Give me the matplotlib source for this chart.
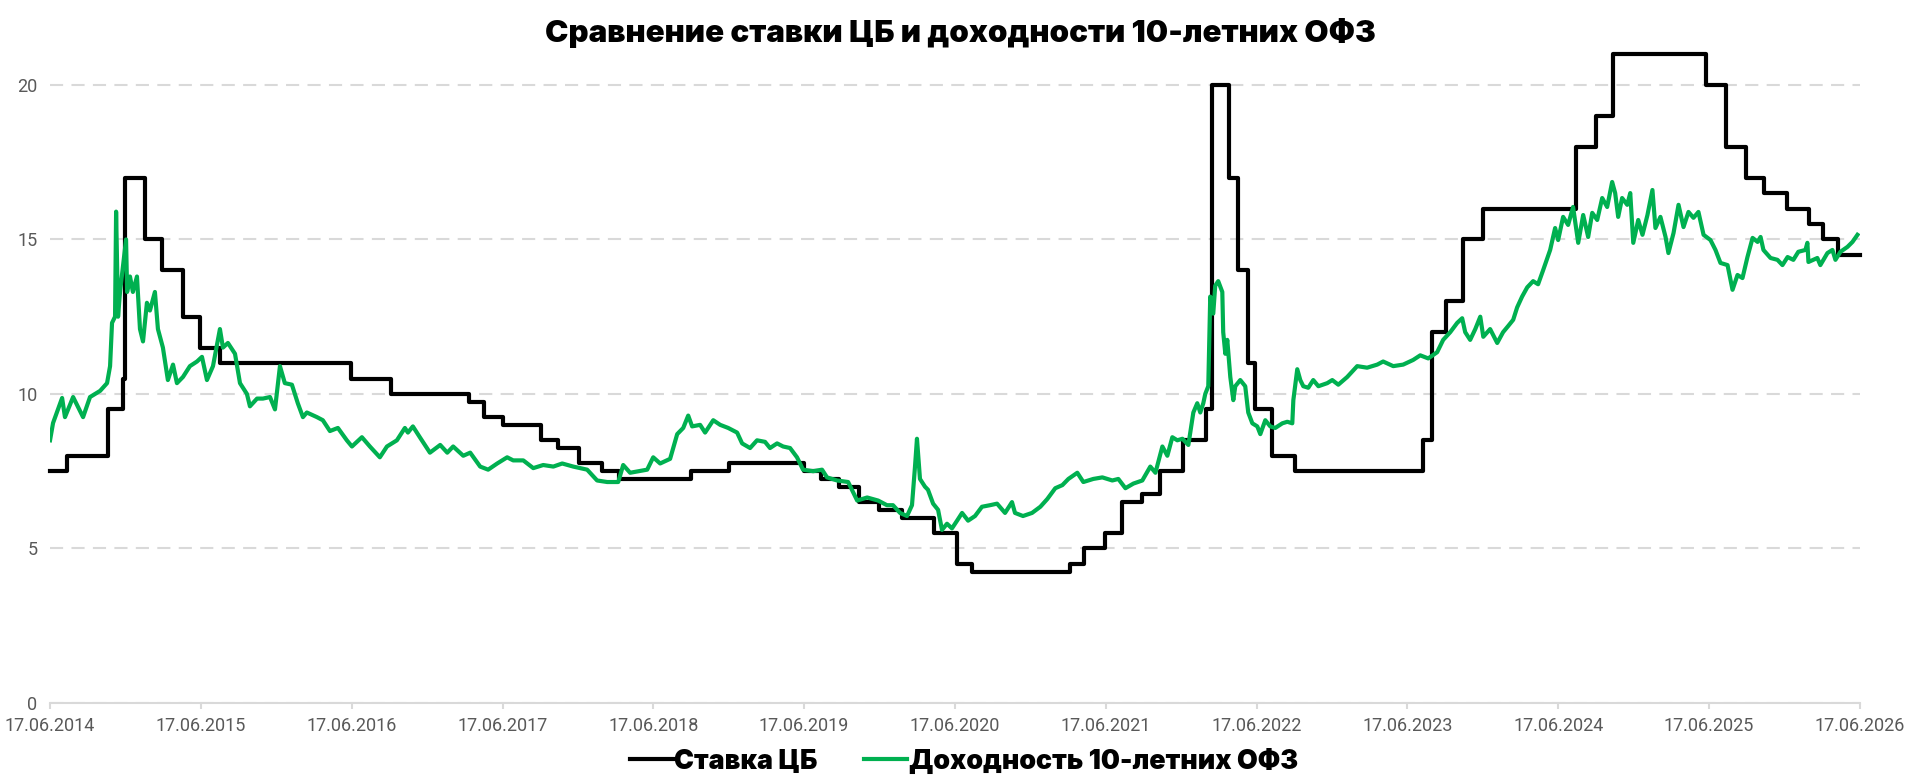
import matplotlib
matplotlib.use("Agg")
import matplotlib.pyplot as plt
import matplotlib.dates as mdates
from datetime import datetime, timedelta

# Ключевая ставка ЦБ (дата изменения -> значение)
rate_dates = ['2014-06-17', '2014-07-28', '2014-11-05', '2014-12-12', '2014-12-16',
              '2015-02-02', '2015-03-16', '2015-05-05', '2015-06-16', '2015-08-03',
              '2016-06-14', '2016-09-19', '2017-03-27', '2017-05-02', '2017-06-19',
              '2017-09-18', '2017-10-30', '2017-12-18', '2018-02-12', '2018-03-26',
              '2018-09-17', '2018-12-17', '2019-06-17', '2019-07-29', '2019-09-09',
              '2019-10-28', '2019-12-16', '2020-02-10', '2020-04-27', '2020-06-22',
              '2020-07-27', '2021-03-22', '2021-04-26', '2021-06-15', '2021-07-26',
              '2021-09-13', '2021-10-25', '2021-12-20', '2022-02-14', '2022-02-28',
              '2022-04-11', '2022-05-04', '2022-05-27', '2022-06-14', '2022-07-25',
              '2022-09-19', '2023-07-24', '2023-08-15', '2023-09-18', '2023-10-30',
              '2023-12-18', '2024-07-29', '2024-09-16', '2024-10-28', '2025-06-09',
              '2025-07-28', '2025-09-15', '2025-10-27', '2025-12-22', '2026-02-13',
              '2026-03-20', '2026-04-24', '2026-06-17']
rate_values = [7.5, 8, 9.5, 10.5, 17, 15, 14, 12.5, 11.5, 11,
               10.5, 10, 9.75, 9.25, 9, 8.5, 8.25, 7.75, 7.5, 7.25,
               7.5, 7.75, 7.5, 7.25, 7, 6.5, 6.25, 6, 5.5, 4.5,
               4.25, 4.5, 5, 5.5, 6.5, 6.75, 7.5, 8.5, 9.5, 20,
               17, 14, 11, 9.5, 8, 7.5, 8.5, 12, 13, 15,
               16, 18, 19, 21, 20, 18, 17, 16.5, 16, 15.5,
               15, 14.5, 14.5]

# Доходность 10-летних ОФЗ (дробный год -> %)
ofz_years = [2014.458, 2014.478, 2014.538, 2014.557, 2014.611, 2014.677, 2014.723, 2014.790,
             2014.836, 2014.856, 2014.869, 2014.889, 2014.896, 2014.909, 2014.922, 2014.962,
             2014.969, 2014.988, 2015.008, 2015.035, 2015.055, 2015.075, 2015.101, 2015.121,
             2015.154, 2015.174, 2015.207, 2015.240, 2015.274, 2015.300, 2015.340, 2015.386,
             2015.433, 2015.466, 2015.499, 2015.539, 2015.585, 2015.605, 2015.638, 2015.685,
             2015.718, 2015.764, 2015.784, 2015.831, 2015.870, 2015.917, 2015.950, 2015.983,
             2016.016, 2016.063, 2016.102, 2016.136, 2016.162, 2016.229, 2016.268, 2016.315,
             2016.368, 2016.427, 2016.461, 2016.527, 2016.580, 2016.646, 2016.693, 2016.759,
             2016.812, 2016.832, 2016.865, 2016.911, 2016.978, 2017.044, 2017.091, 2017.130,
             2017.197, 2017.243, 2017.309, 2017.362, 2017.422, 2017.488, 2017.528, 2017.595,
             2017.661, 2017.727, 2017.794, 2017.853, 2017.926, 2018.019, 2018.085, 2018.152,
             2018.225, 2018.258, 2018.304, 2018.417, 2018.457, 2018.503, 2018.569, 2018.616,
             2018.656, 2018.689, 2018.715, 2018.768, 2018.801, 2018.855, 2018.901, 2018.954,
             2019.014, 2019.047, 2019.100, 2019.146, 2019.199, 2019.232, 2019.279, 2019.319,
             2019.365, 2019.411, 2019.451, 2019.518, 2019.577, 2019.610, 2019.677, 2019.750,
             2019.810, 2019.876, 2019.949, 2020.008, 2020.048, 2020.095, 2020.141, 2020.174,
             2020.194, 2020.207, 2020.227, 2020.260, 2020.280, 2020.314, 2020.347, 2020.373,
             2020.406, 2020.439, 2020.473, 2020.506, 2020.546, 2020.592, 2020.638, 2020.691,
             2020.738, 2020.791, 2020.837, 2020.857, 2020.910, 2020.970, 2021.023, 2021.069,
             2021.122, 2021.169, 2021.209, 2021.268, 2021.308, 2021.374, 2021.434, 2021.500,
             2021.540, 2021.587, 2021.640, 2021.699, 2021.752, 2021.786, 2021.832, 2021.865,
             2021.898, 2021.931, 2021.965, 2022.005, 2022.038, 2022.064, 2022.084, 2022.104,
             2022.117, 2022.137, 2022.150, 2022.170, 2022.183, 2022.203, 2022.230, 2022.236,
             2022.250, 2022.263, 2022.283, 2022.303, 2022.316, 2022.349, 2022.382, 2022.402,
             2022.429, 2022.462, 2022.482, 2022.515, 2022.548, 2022.581, 2022.628, 2022.661,
             2022.694, 2022.701, 2022.727, 2022.747, 2022.767, 2022.800, 2022.833, 2022.867,
             2022.926, 2022.959, 2022.999, 2023.059, 2023.125, 2023.191, 2023.258, 2023.297,
             2023.364, 2023.430, 2023.496, 2023.543, 2023.596, 2023.655, 2023.695, 2023.742,
             2023.788, 2023.821, 2023.841, 2023.874, 2023.908, 2023.941, 2023.961, 2024.007,
             2024.054, 2024.093, 2024.127, 2024.160, 2024.186, 2024.219, 2024.253, 2024.292,
             2024.325, 2024.358, 2024.405, 2024.438, 2024.458, 2024.491, 2024.524, 2024.557,
             2024.591, 2024.624, 2024.657, 2024.684, 2024.717, 2024.750, 2024.783, 2024.816,
             2024.836, 2024.856, 2024.882, 2024.916, 2024.936, 2024.956, 2024.989, 2025.015,
             2025.048, 2025.081, 2025.101, 2025.134, 2025.168, 2025.187, 2025.221, 2025.254,
             2025.287, 2025.320, 2025.353, 2025.386, 2025.420, 2025.466, 2025.499, 2025.532,
             2025.579, 2025.612, 2025.645, 2025.678, 2025.711, 2025.745, 2025.778, 2025.798,
             2025.817, 2025.864, 2025.910, 2025.943, 2025.977, 2026.016, 2026.049, 2026.096,
             2026.109, 2026.116, 2026.175, 2026.195, 2026.242, 2026.275, 2026.295, 2026.328,
             2026.375, 2026.408, 2026.441]
ofz_values = [8.5, 9.06, 9.87, 9.25, 9.9, 9.25, 9.9, 10.1,
              10.35, 10.9, 12.3, 12.5, 15.9, 12.5, 13.3, 15.0,
              13.3, 13.8, 13.3, 13.8, 12.1, 11.7, 12.95, 12.7,
              13.3, 12.1, 11.5, 10.45, 10.95, 10.35, 10.55, 10.9,
              11.05, 11.2, 10.45, 10.9, 12.1, 11.5, 11.65, 11.3,
              10.35, 10.0, 9.6, 9.85, 9.85, 9.9, 9.5, 10.9,
              10.35, 10.3, 9.7, 9.25, 9.4, 9.25, 9.15, 8.8,
              8.9, 8.5, 8.3, 8.6, 8.3, 7.95, 8.3, 8.5,
              8.9, 8.75, 8.95, 8.6, 8.1, 8.35, 8.1, 8.3,
              8.0, 8.1, 7.65, 7.55, 7.75, 7.95, 7.85, 7.85,
              7.6, 7.7, 7.65, 7.75, 7.65, 7.55, 7.2, 7.15,
              7.15, 7.7, 7.45, 7.55, 7.95, 7.75, 7.9, 8.7,
              8.9, 9.3, 8.95, 9.0, 8.75, 9.15, 9.0, 8.9,
              8.75, 8.4, 8.25, 8.5, 8.45, 8.25, 8.4, 8.3,
              8.25, 7.95, 7.55, 7.5, 7.55, 7.3, 7.2, 7.15,
              6.55, 6.65, 6.55, 6.4, 6.4, 6.15, 6.05, 6.4,
              7.65, 8.55, 7.25, 7.0, 6.9, 6.45, 6.25, 5.6,
              5.8, 5.65, 5.9, 6.15, 5.9, 6.05, 6.35, 6.4,
              6.45, 6.15, 6.5, 6.15, 6.05, 6.15, 6.35, 6.6,
              6.95, 7.05, 7.25, 7.45, 7.15, 7.25, 7.3, 7.2,
              7.25, 6.95, 7.1, 7.2, 7.65, 7.45, 8.3, 8.0,
              8.6, 8.5, 8.55, 8.35, 9.4, 9.7, 9.4, 9.7,
              10.0, 10.25, 13.15, 12.6, 13.5, 13.65, 13.3, 12.0,
              11.3, 11.75, 10.55, 9.8, 10.25, 10.45, 10.25, 9.4,
              9.05, 8.95, 8.7, 9.15, 8.95, 8.9, 9.05, 9.1,
              9.05, 9.8, 10.8, 10.45, 10.25, 10.2, 10.45, 10.25,
              10.35, 10.45, 10.3, 10.55, 10.9, 10.85, 10.95, 11.05,
              10.9, 10.95, 11.1, 11.25, 11.15, 11.35, 11.75, 12.0,
              12.3, 12.45, 12.0, 11.75, 12.1, 12.5, 11.85, 12.1,
              11.65, 12.0, 12.2, 12.4, 12.8, 13.15, 13.45, 13.65,
              13.55, 14.0, 14.66, 15.37, 14.98, 15.73, 15.47, 16.05,
              14.89, 15.79, 15.08, 15.86, 15.63, 16.34, 16.05, 16.86,
              16.5, 15.73, 16.34, 16.12, 16.5, 14.89, 15.63, 15.15,
              15.79, 16.6, 15.37, 15.73, 15.08, 14.56, 15.21, 16.12,
              15.4, 15.89, 15.7, 15.89, 15.15, 14.98, 14.66, 14.24,
              14.17, 13.37, 13.85, 13.75, 14.43, 15.05, 14.92, 15.08,
              14.66, 14.4, 14.34, 14.17, 14.43, 14.34, 14.6, 14.66,
              14.89, 14.27, 14.4, 14.17, 14.56, 14.66, 14.34, 14.6,
              14.76, 14.92, 15.15]

tick_years = list(range(2014, 2027))
y_ticks = [0, 5, 10, 15, 20]


def year_to_date(y):
    yr = int(y)
    return datetime(yr, 1, 1) + timedelta(days=(y - yr) * 365.25)


rate_x = [datetime.strptime(d, '%Y-%m-%d') for d in rate_dates]
ofz_x = [year_to_date(y) for y in ofz_years]
tick_x = [datetime(y, 6, 17) for y in tick_years]

fig = plt.figure(figsize=(19.2, 7.83), dpi=100)
ax = fig.add_axes([0.026, 0.1022, 0.9427, 0.8288])

ax.step(rate_x, rate_values, where='post', color='black', lw=3.0,
        label='Ставка ЦБ', clip_on=False, zorder=3)
ax.plot(ofz_x, ofz_values, color='#00B050', lw=3.0,
        label='Доходность 10-летних ОФЗ', zorder=4)

ax.set_xlim(tick_x[0], tick_x[-1])
ax.set_ylim(0, 21)
ax.set_xticks(tick_x)
ax.xaxis.set_major_formatter(mdates.DateFormatter('%d.%m.%Y'))
ax.set_yticks(y_ticks)

for s in ['top', 'right', 'left']:
    ax.spines[s].set_visible(False)
ax.spines['bottom'].set_color('#d9d9d9')
ax.spines['bottom'].set_linewidth(1.5)

ax.yaxis.grid(True, color='#d9d9d9', lw=1.5, dashes=(6.3, 4))
ax.set_axisbelow(True)

ax.tick_params(axis='x', colors='#d9d9d9', width=1.5, length=4, pad=6,
               labelcolor='#595959', labelsize=13)
ax.tick_params(axis='y', length=0, pad=9, labelcolor='#595959', labelsize=13)
for lab in ax.get_xticklabels() + ax.get_yticklabels():
    lab.set_fontfamily('Roboto')

fig.text(0.5, 1 - 33 / 783, 'Сравнение ставки ЦБ и доходности 10-летних ОФЗ',
         ha='center', va='center', fontsize=22.5, fontweight='black',
         family=['Inter', 'DejaVu Sans'])

leg = fig.legend(loc='center', bbox_to_anchor=(0.502, 0.027), ncol=2, frameon=False,
                 handlelength=1.6, handletextpad=0.05, columnspacing=1.75,
                 prop={'family': ['Inter', 'DejaVu Sans'], 'weight': 'black', 'size': 19.3})

fig.savefig('out.png', dpi=100)
